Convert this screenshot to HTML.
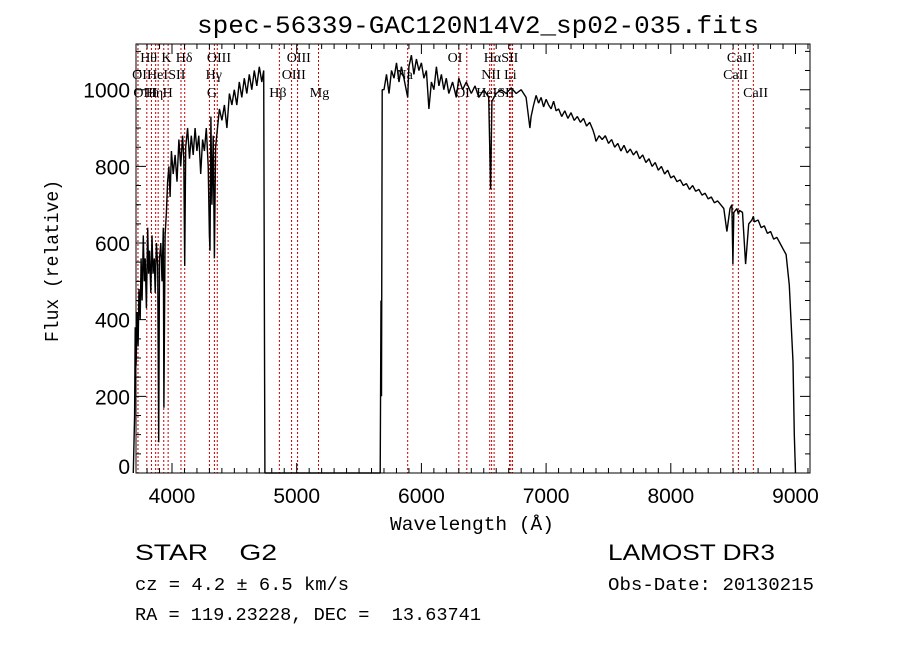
<!DOCTYPE html>
<html><head><meta charset="utf-8"><style>
html,body{margin:0;padding:0;background:#fff;}
svg{display:block;}
text{white-space:pre;}
</style></head><body>
<svg id="chart" width="900" height="649" viewBox="0 0 900 649" xmlns="http://www.w3.org/2000/svg">
<rect width="900" height="649" fill="#fff"/>
<text x="197" y="33" font-family="Liberation Mono, monospace" font-size="25" textLength="562" lengthAdjust="spacingAndGlyphs">spec-56339-GAC120N14V2_sp02-035.fits</text>
<g id="lines"></g>
<g id="spec"></g>
<g id="axes"></g>
<text x="390" y="530" font-family="Liberation Mono, monospace" font-size="19" textLength="164" lengthAdjust="spacingAndGlyphs">Wavelength (Å)</text>
<text transform="translate(58,342) rotate(-90)" font-family="Liberation Mono, monospace" font-size="19" textLength="162" lengthAdjust="spacingAndGlyphs">Flux (relative)</text>
<text x="135" y="560" font-family="Liberation Sans, sans-serif" font-size="22" textLength="142" lengthAdjust="spacingAndGlyphs" xml:space="preserve">STAR    G2</text>
<text x="135" y="590" font-family="Liberation Mono, monospace" font-size="18" textLength="214" lengthAdjust="spacingAndGlyphs">cz = 4.2 ± 6.5 km/s</text>
<text x="135" y="620" font-family="Liberation Mono, monospace" font-size="18" textLength="346" lengthAdjust="spacingAndGlyphs" xml:space="preserve">RA = 119.23228, DEC =  13.63741</text>
<text x="608" y="560" font-family="Liberation Sans, sans-serif" font-size="22" textLength="167" lengthAdjust="spacingAndGlyphs">LAMOST DR3</text>
<text x="608" y="590" font-family="Liberation Mono, monospace" font-size="18" textLength="206" lengthAdjust="spacingAndGlyphs">Obs-Date: 20130215</text>
</svg>
<script>
const waves = [3700,3705,3712,3720,3728,3735,3745,3752,3760,3770,3778,3785,3795,3805,3812,3820,3830,3840,3848,3858,3865,3875,3885,3893,3900,3910,3920,3930,3935,3945,3955,3965,3975,3985,3995,4010,4025,4040,4055,4070,4085,4095,4102,4110,4125,4140,4155,4170,4185,4200,4215,4230,4245,4260,4275,4290,4300,4305,4312,4320,4330,4340,4350,4365,4380,4400,4420,4440,4460,4480,4500,4520,4540,4560,4580,4600,4620,4640,4660,4680,4700,4720,4735,4740,4745,5670,5676,5680,5686,5700,5720,5740,5760,5780,5800,5820,5840,5860,5890,5900,5920,5940,5960,5980,6000,6020,6040,6060,6080,6100,6120,6140,6160,6180,6200,6220,6250,6280,6300,6330,6360,6400,6430,6460,6500,6540,6555,6565,6600,6640,6680,6720,6760,6800,6840,6870,6880,6900,6920,6940,6960,6980,7000,7020,7040,7060,7080,7100,7125,7150,7175,7200,7225,7250,7275,7300,7325,7350,7375,7390,7400,7425,7450,7475,7500,7525,7550,7575,7600,7625,7650,7675,7700,7725,7750,7775,7800,7825,7850,7875,7900,7925,7950,7975,8000,8025,8050,8075,8100,8125,8150,8175,8200,8225,8250,8275,8300,8325,8350,8375,8400,8425,8450,8475,8490,8498,8505,8530,8542,8550,8575,8600,8625,8650,8662,8670,8700,8725,8750,8775,8800,8825,8850,8875,8900,8925,8950,8980,8990,9000,9005,9010];
const fluxes = [150,380,280,420,330,480,400,560,450,620,500,560,430,640,520,580,470,620,520,560,470,600,540,80,560,600,500,640,170,620,680,760,800,720,840,780,830,760,870,800,880,820,540,850,900,820,880,830,900,840,880,780,870,840,900,800,620,580,930,700,880,560,850,900,950,920,960,900,990,960,1000,960,1020,980,1030,990,1040,1000,1050,1010,1060,1020,1050,500,0,0,450,200,1000,1000,1040,990,1050,1030,1070,1020,1060,1030,980,1060,1090,1040,1080,1050,1070,1030,1050,950,1020,1000,1060,1010,1040,1000,1030,990,1020,980,1030,1000,1020,990,1010,980,1000,980,740,970,990,1000,990,1005,990,1000,980,900,930,960,985,965,980,955,975,960,950,970,945,950,930,945,925,940,920,930,915,925,905,915,895,880,865,880,870,880,860,870,850,860,840,855,835,845,830,840,820,830,810,820,800,810,790,800,780,790,770,775,760,765,750,755,740,750,735,740,725,730,715,720,705,710,700,690,630,690,700,545,680,690,675,685,680,545,650,660,670,655,660,640,645,625,630,610,615,600,585,570,490,290,100,0];
const lineWaves = [3727,3798,3835,3869,3889,3934,3969,4072,4102,4300,4340,4363,4861,4959,5007,5175,5890,6300,6364,6548,6563,6583,6707,6717,6731,8498,8542,8662];
const labelText = ["Hθ","K","Hδ","OIII","OIII","OI","HαSII","CaII","OII","HeI","SII","Hγ","OIII","Na","NII Li","CaII","OIII","Hη","H","G","Hβ","Mg","OI","HeISII","CaII"];
const labelWave = [3745,3915,4030,4280,4920,6210,6500,8450,3680,3800,3970,4270,4880,5800,6480,8420,3690,3790,3925,4280,4780,5105,6270,6440,8580];
const labelRow = [0,0,0,0,0,0,0,0,1,1,1,1,1,1,1,1,2,2,2,2,2,2,2,2,2];
const xTicks = [4000,5000,6000,7000,8000,9000];
const yTicks = [0,200,400,600,800,1000];

const L=136,R=810,T=44,B=473;
const X = w => 172 + (w-4000)*0.1247;
const Y = f => 473 - f*0.3833;
const NS="http://www.w3.org/2000/svg";
function mk(tag, parent){const e=document.createElementNS(NS,tag);parent.appendChild(e);return e;}
const gl=document.getElementById('lines'), gs=document.getElementById('spec'), ga=document.getElementById('axes');

lineWaves.forEach(w=>{
  const l=mk('line',gl);
  
  
  l.setAttribute('x1',X(w));l.setAttribute('x2',X(w));l.setAttribute('y1',T);l.setAttribute('y2',B);
  l.setAttribute('stroke','#c00000');l.setAttribute('stroke-width','1');l.setAttribute('stroke-dasharray','2,2');
});
const rowY=[62,79,97];
labelText.forEach((t,i)=>{
  const e=mk('text',gl);
  
  
  e.setAttribute('x',X(labelWave[i]));e.setAttribute('y',rowY[labelRow[i]]);
  e.setAttribute('font-family','Liberation Serif, serif');e.setAttribute('font-size','14');
  e.textContent=t;
});

let d='M'+X(3690).toFixed(1)+','+Y(0).toFixed(1);
waves.forEach((w,i)=>{d+=' L'+X(w).toFixed(1)+','+Y(fluxes[i]).toFixed(1);});
const p=mk('path',gs);


p.setAttribute('d',d);p.setAttribute('fill','none');p.setAttribute('stroke','#000');p.setAttribute('stroke-width','1.4');p.setAttribute('stroke-linejoin','bevel');

const box=mk('rect',ga);


box.setAttribute('x',L);box.setAttribute('y',T);box.setAttribute('width',R-L);box.setAttribute('height',B-T);
box.setAttribute('fill','none');box.setAttribute('stroke','#000');box.setAttribute('stroke-width','1');

let td='';
for(let w=3800;w<=9100;w+=100){const x=X(w);const len=(w%1000===0)?10:5;td+=`M${x},${B}v${-len}M${x},${T}v${len}`;}
for(let f=0;f<=1100;f+=50){const y=Y(f);const len=(f%200===0)?10:5;td+=`M${L},${y}h${len}M${R},${y}h${-len}`;}
const tp=mk('path',ga);


tp.setAttribute('d',td);tp.setAttribute('stroke','#000');tp.setAttribute('fill','none');

xTicks.forEach(w=>{
  const e=mk('text',ga);
  
  
  e.setAttribute('x',X(w));e.setAttribute('y',503);e.setAttribute('text-anchor','middle');
  e.setAttribute('font-family','Liberation Sans, sans-serif');e.setAttribute('font-size','21');
  e.textContent=w;
});
yTicks.forEach(f=>{
  const e=mk('text',ga);
  
  
  e.setAttribute('x',130);e.setAttribute('y',Y(f)+ (f===0?1:8));e.setAttribute('text-anchor','end');
  e.setAttribute('font-family','Liberation Sans, sans-serif');e.setAttribute('font-size','21');
  e.textContent=f;
});
</script>
</body></html>
